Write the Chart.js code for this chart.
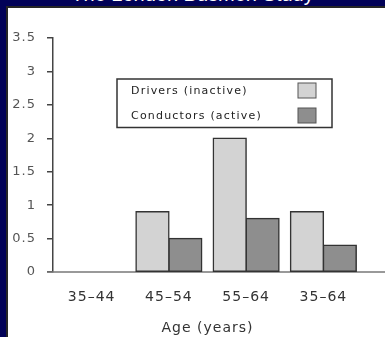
<!DOCTYPE html>
<html><head><meta charset="utf-8">
<script src="https://cdn.jsdelivr.net/npm/chart.js@4.4.0/dist/chart.umd.min.js"></script>
<style>
html,body{margin:0;padding:0;background:#020258;width:385px;height:337px;overflow:hidden;position:relative}
#head{position:absolute;left:0;top:-16px;width:385px;text-align:center;color:#fff;font:20px/20px "Liberation Sans",Arial,sans-serif}
#panel{position:absolute;left:6px;top:6px;width:377px;height:329px;background:#fff;border-left:2px solid #262626;border-top:2px solid #262626}
#wrap{position:absolute;left:0;top:0;width:385px;height:337px}
</style></head><body>
<div id="head">The London Busmen Study</div>
<div id="panel"></div>
<div id="wrap"><canvas id="c"></canvas></div>
<script>
const ageGroups=["35–44","45–54","55–64","35–64"];
const drivers=[null,0.9,2.0,0.9];
const conductors=[null,0.5,0.8,0.4];
const yTicks=[0,0.5,1,1.5,2,2.5,3,3.5];

// canvas text in the reference looks stretched sideways
const spacing={id:'spacing',beforeDraw(c){ c.ctx.letterSpacing='1px'; }};

// x axis line runs past the last group to the panel edge
const baseLine={id:'baseLine',beforeDatasetsDraw(c){
  const ctx=c.ctx, y=c.scales.y.getPixelForValue(0);
  const x0=c.chartArea.left-c.scales.y.options.grid.tickLength;
  ctx.save(); ctx.strokeStyle='#777'; ctx.lineWidth=1.5;
  ctx.beginPath(); ctx.moveTo(x0,y); ctx.lineTo(c.width,y); ctx.stroke(); ctx.restore();
}};

// boxed legend: text first, swatch on the right
const legendBox={id:'legendBox',afterDraw(c){
  const ctx=c.ctx; ctx.save();
  ctx.letterSpacing='1.2px';
  ctx.strokeStyle='#333'; ctx.lineWidth=1.5;
  ctx.strokeRect(117,79,215,48.5);
  ctx.font='11px "DejaVu Sans"'; ctx.textBaseline='middle';
  c.data.datasets.forEach((d,i)=>{
    const y=91+i*25;
    ctx.fillStyle='#222'; ctx.fillText(d.label,131,y);
    ctx.fillStyle=d.backgroundColor; ctx.fillRect(298,y-8,18,15);
    ctx.strokeStyle='#555'; ctx.lineWidth=1; ctx.strokeRect(298,y-8,18,15);
  });
  ctx.restore();
}};

new Chart(document.getElementById('c'),{
  type:'bar',
  data:{labels:ageGroups,datasets:[
    {label:'Drivers (inactive)',data:drivers,backgroundColor:'#d3d3d3',borderColor:'#333',borderWidth:1.5,borderSkipped:false,inflateAmount:0.75},
    {label:'Conductors (active)',data:conductors,backgroundColor:'#8e8e8e',borderColor:'#333',borderWidth:1.5,borderSkipped:false,inflateAmount:0.75}
  ]},
  options:{
    responsive:true,maintainAspectRatio:false,animation:false,
    categoryPercentage:0.85,barPercentage:1,
    layout:{padding:{left:0,right:23,top:38,bottom:0}},
    plugins:{legend:{display:false},tooltip:{enabled:false}},
    scales:{
      x:{
        grid:{display:false,drawTicks:false},border:{display:false},
        ticks:{padding:17,color:'#333',font:{family:'DejaVu Sans',size:14},maxRotation:0,autoSkip:false},
        title:{display:true,text:'Age (years)',color:'#333',font:{family:'DejaVu Sans',size:14},padding:{top:4,bottom:0}},
        afterFit(s){ s.height=65; }
      },
      y:{
        min:0,max:3.5,
        afterBuildTicks(s){ s.ticks=yTicks.map(v=>({value:v})); },
        grid:{drawOnChartArea:false,drawTicks:true,tickLength:6,color:'#444',lineWidth:1.5},
        border:{display:true,color:'#444',width:1.5},
        ticks:{padding:11,color:'#555',font:{family:'DejaVu Sans',size:13},callback:v=>String(v)},
        afterFit(s){ s.width=53; }
      }
    }
  },
  plugins:[spacing,baseLine,legendBox]
});
</script>
</body></html>
